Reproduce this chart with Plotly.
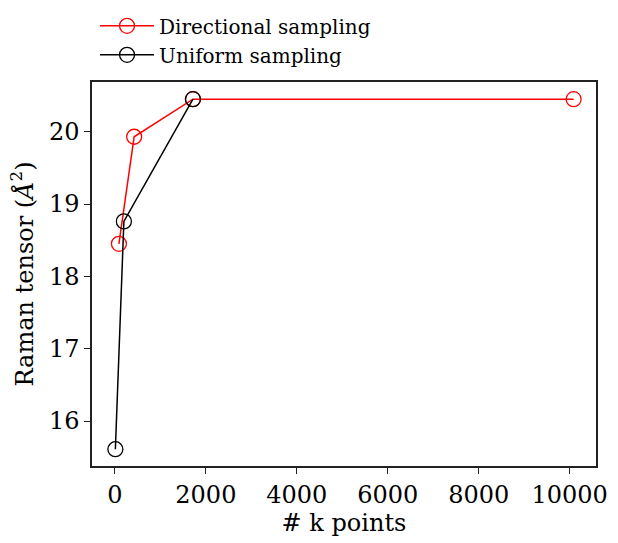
import plotly.graph_objects as go

# Data
dir_k = [88, 423, 1716, 10088]
dir_val = [18.45, 19.93, 20.45, 20.45]
uni_k = [10, 197, 1716]
uni_val = [15.61, 18.76, 20.45]

x_ticks = [0, 2000, 4000, 6000, 8000, 10000]
x_labels = ["0", "2000", "4000", "6000", "8000", "10000"]
y_ticks = [16, 17, 18, 19, 20]

FONT = "DejaVu Serif"

fig = go.Figure()
fig.add_trace(go.Scatter(
    x=dir_k, y=dir_val, mode="lines+markers", name="Directional sampling",
    line=dict(color="red", width=1.5),
    marker=dict(symbol="circle-open", size=15, color="red", line=dict(width=1.3)),
))
fig.add_trace(go.Scatter(
    x=uni_k, y=uni_val, mode="lines+markers", name="Uniform sampling",
    line=dict(color="black", width=1.5),
    marker=dict(symbol="circle-open", size=15, color="black", line=dict(width=1.3)),
))

axis_common = dict(
    showline=True, linecolor="#222", linewidth=1.5, mirror=True,
    ticks="outside", ticklen=6, tickwidth=1.2, tickcolor="#222",
    showgrid=False, zeroline=False,
    tickfont=dict(family=FONT, size=24, color="black"),
)

fig.update_xaxes(range=[-504, 10580], tickvals=x_ticks, ticktext=x_labels,
                 title=dict(text="# k points", font=dict(family=FONT, size=24, color="black"), standoff=0),
                 **axis_common)
fig.update_yaxes(range=[15.378, 20.687], tickvals=y_ticks,
                 title=dict(text="Raman tensor (<i>Å</i><sup>2</sup>)", font=dict(family=FONT, size=24, color="black"), standoff=9),
                 **axis_common)

fig.update_layout(
    width=618, height=543,
    margin=dict(l=92, r=22, t=82, b=77, autoexpand=False),
    plot_bgcolor="white", paper_bgcolor="white",
    font=dict(family=FONT, color="black"),
    legend=dict(x=0.006, y=1.197, xanchor="left", yanchor="top",
                font=dict(family=FONT, size=20, color="black"),
                bgcolor="rgba(0,0,0,0)", itemwidth=54),
)

fig.write_html("out.html")
